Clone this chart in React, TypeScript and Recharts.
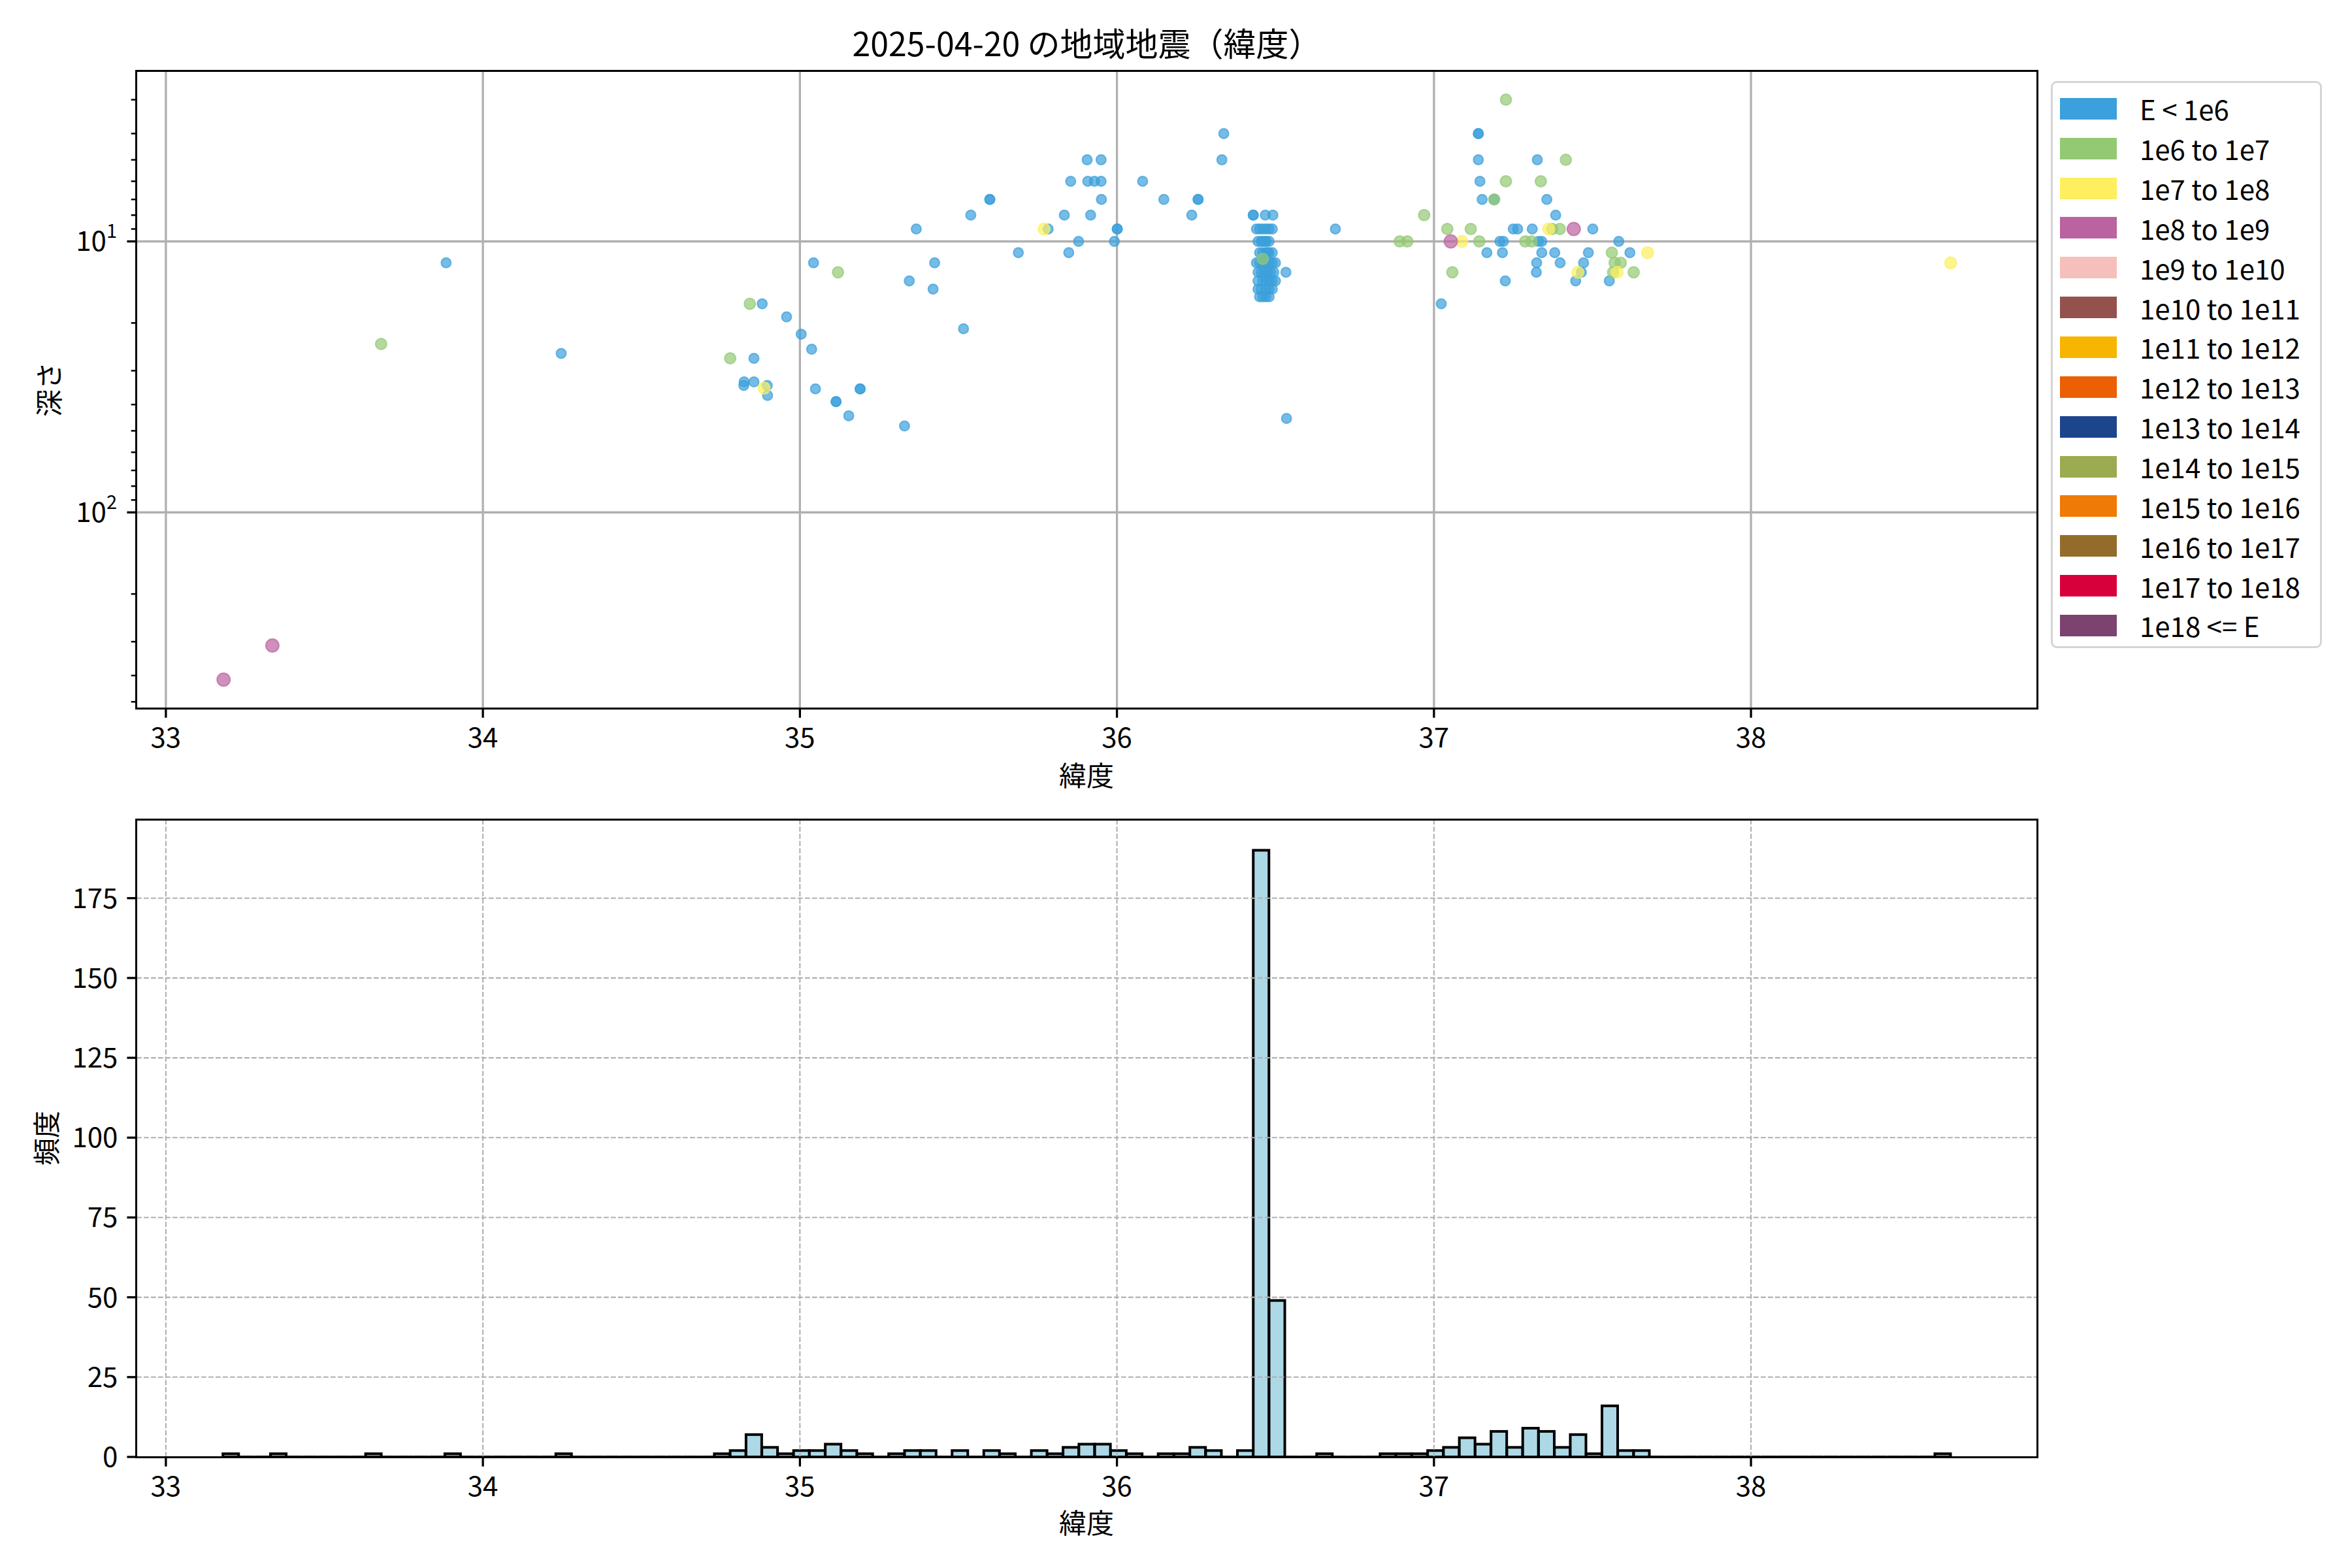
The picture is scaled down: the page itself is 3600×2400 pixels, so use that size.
import { ScatterChart, Scatter, BarChart, Bar, XAxis, YAxis, ReferenceLine } from 'recharts'

const FONT = '"Noto Sans CJK JP", "Noto Sans", sans-serif'

// axes
const LAT_TICKS = [33, 34, 35, 36, 37, 38]
const LAT_DOMAIN: [number, number] = [32.9075, 38.9025]
const DEPTH_MAJOR = [10, 100]
const DEPTH_MINOR = [3, 4, 5, 6, 7, 8, 9, 20, 30, 40, 50, 60, 70, 80, 90, 200, 300, 400, 500]
const DEPTH_DOMAIN: [number, number] = [2.355, 528]
const FREQ_TICKS = [0, 25, 50, 75, 100, 125, 150, 175]
const FREQ_DOMAIN: [number, number] = [0, 199.5]

// energy classes (legend)
const ENERGY_LABELS = [
  'E < 1e6', '1e6 to 1e7', '1e7 to 1e8', '1e8 to 1e9', '1e9 to 1e10', '1e10 to 1e11',
  '1e11 to 1e12', '1e12 to 1e13', '1e13 to 1e14', '1e14 to 1e15', '1e15 to 1e16',
  '1e16 to 1e17', '1e17 to 1e18', '1e18 <= E',
]
const ENERGY_COLORS = [
  '#3ba0db', '#93c973', '#fdef5e', '#bb62a0', '#f5c0bb', '#94524e', '#f7b500',
  '#eb5f05', '#1c468c', '#9bab50', '#ef7a05', '#936c2b', '#d8003a', '#7c4270',
]

// [latitude, depth km]
const pointsBelow1e6: [number, number][] = [
  [33.884, 12], [34.247, 25.9], [35.043, 12], [34.881, 17], [34.958, 19], [35.004, 22],
  [35.037, 25], [34.855, 27], [34.824, 33], [34.823, 34], [34.855, 33], [34.897, 34],
  [34.898, 37], [35.049, 35], [35.114, 39], [35.114, 39], [35.154, 44], [35.19, 35],
  [35.19, 35], [35.33, 48], [35.516, 21], [35.345, 14], [35.42, 15], [35.425, 12],
  [35.367, 9], [35.539, 8], [35.599, 7], [35.599, 7], [35.689, 11], [35.783, 9],
  [35.834, 8], [35.848, 11], [35.854, 6], [35.879, 10], [35.906, 5], [35.908, 6],
  [35.917, 8], [35.929, 6], [35.95, 5], [35.95, 6], [35.951, 7], [35.992, 10],
  [36.001, 9], [36.001, 9], [36.081, 6], [36.148, 7], [36.236, 8], [36.256, 7],
  [36.256, 7], [36.331, 5], [36.337, 4], [36.689, 9], [36.533, 13], [36.535, 45],
  // cluster near 36.45
  [36.43, 8], [36.43, 8], [36.468, 8], [36.492, 8],
  [36.44, 9], [36.45, 9], [36.46, 9], [36.47, 9], [36.48, 9], [36.49, 9],
  [36.445, 10], [36.455, 10], [36.46, 10], [36.47, 10], [36.48, 10], [36.47, 10],
  [36.45, 11], [36.46, 11], [36.47, 11], [36.48, 11], [36.49, 11], [36.475, 11],
  [36.44, 12], [36.45, 12], [36.46, 12], [36.47, 12], [36.48, 12], [36.49, 12], [36.5, 12],
  [36.445, 13], [36.455, 13], [36.465, 13], [36.475, 13], [36.485, 13], [36.495, 13],
  [36.445, 14], [36.46, 14], [36.47, 14], [36.48, 14], [36.49, 14], [36.5, 14],
  [36.445, 15], [36.455, 15], [36.47, 15], [36.48, 15], [36.49, 15],
  [36.45, 16], [36.46, 16], [36.47, 16], [36.48, 16],
  // north
  [37.14, 4], [37.14, 4], [37.14, 5], [37.326, 5], [37.145, 6], [37.152, 7], [37.19, 7],
  [37.356, 7], [37.384, 8], [37.25, 9], [37.264, 9], [37.31, 9], [37.501, 9],
  [37.208, 10], [37.219, 10], [37.33, 10], [37.34, 10], [37.583, 10], [37.167, 11],
  [37.216, 11], [37.34, 11], [37.381, 11], [37.487, 11], [37.618, 11], [37.324, 12],
  [37.398, 12], [37.472, 12], [37.323, 13], [37.465, 13], [37.225, 14], [37.447, 14],
  [37.553, 14], [37.023, 17],
]
const points1e6to1e7: [number, number][] = [
  [33.679, 23.9], [35.12, 13], [34.842, 17], [34.78, 27], [36.46, 11.6],
  [37.227, 3], [37.416, 5], [37.227, 6], [37.337, 6], [37.19, 7], [36.969, 8],
  [37.042, 9], [37.116, 9], [37.373, 9], [37.397, 9], [36.892, 10], [36.916, 10],
  [37.143, 10], [37.288, 10], [37.308, 10], [37.561, 11], [37.57, 12], [37.589, 12],
  [37.058, 13], [37.565, 13], [37.63, 13],
]
const points1e7to1e8: [number, number][] = [
  [34.887, 34.8], [35.77, 9], [37.088, 10], [37.362, 9], [37.674, 11],
  [37.578, 13], [37.454, 13], [38.63, 12],
]
const points1e8to1e9: [number, number][] = [
  [33.182, 414], [33.336, 310], [37.441, 9], [37.053, 10],
]

// histogram: 109 bins of 0.05 starting at 33.18
const HIST_START = 33.18
const HIST_WIDTH = 0.05
const histCounts = [
  1, 0, 0, 1, 0, 0, 0, 0, 0, 1,
  0, 0, 0, 0, 1, 0, 0, 0, 0, 0,
  0, 1, 0, 0, 0, 0, 0, 0, 0, 0,
  0, 1, 2, 7, 3, 1, 2, 2, 4, 2,
  1, 0, 1, 2, 2, 0, 2, 0, 2, 1,
  0, 2, 1, 3, 4, 4, 2, 1, 0, 1,
  1, 3, 2, 0, 2, 190, 49, 0, 0, 1,
  0, 0, 0, 1, 1, 1, 2, 3, 6, 4,
  8, 3, 9, 8, 3, 7, 1, 16, 2, 2,
  0, 0, 0, 0, 0, 0, 0, 0, 0, 0,
  0, 0, 0, 0, 0, 0, 0, 0, 1,
]

const series = [
  { color: ENERGY_COLORS[0], r: 7.5, points: pointsBelow1e6 },
  { color: ENERGY_COLORS[1], r: 8.5, points: points1e6to1e7 },
  { color: ENERGY_COLORS[2], r: 9, points: points1e7to1e8 },
  { color: ENERGY_COLORS[3], r: 10, points: points1e8to1e9 },
]

const histData = histCounts.map((count, i) => ({
  center: HIST_START + HIST_WIDTH * (i + 0.5),
  count,
}))

const SUP: Record<number, string> = { 10: '1', 100: '2' }

function DepthTick(props: any) {
  const { x, y, payload } = props
  const major = DEPTH_MAJOR.includes(payload.value)
  return (
    <g>
      <line
        x1={x}
        x2={x - (major ? 14.6 : 8.3)}
        y1={y}
        y2={y}
        stroke="#000"
        strokeWidth={major ? 3.3 : 2.5}
      />
      {major && (
        <text x={x - 30} y={y + 15} textAnchor="end" fontSize={42} fontFamily={FONT} fill="#000">
          10<tspan dy={-20} fontSize={29}>{SUP[payload.value]}</tspan>
        </text>
      )}
    </g>
  )
}

function HistBar(props: any) {
  const { x, y, width, height } = props
  if (!height) {
    return <line x1={x} x2={x + width} y1={y} y2={y} stroke="#000" strokeWidth={4} />
  }
  return <rect x={x} y={y} width={width} height={height} fill="#add8e6" stroke="#000" strokeWidth={4} />
}

const tickStyle = { fontSize: 42, fill: '#000', fontFamily: FONT }

function Frame({ left, top, width, height }: { left: number; top: number; width: number; height: number }) {
  return (
    <div
      style={{
        position: 'absolute',
        left: left - 1.65,
        top: top - 1.65,
        width: width + 3.3,
        height: height + 3.3,
        border: '3.3px solid #000',
        boxSizing: 'border-box',
        pointerEvents: 'none',
      }}
    />
  )
}

export default function App() {
  return (
    <div
      style={{
        position: 'absolute',
        left: 0,
        top: 0,
        width: 3600,
        height: 2400,
        background: '#fff',
        fontFamily: FONT,
        color: '#000',
      }}
    >
      <div style={{ position: 'absolute', left: 209, width: 2909, top: 36, textAlign: 'center', fontSize: 50, lineHeight: '56px' }}>
        2025-04-20 の地域地震（緯度）
      </div>

      <div style={{ position: 'absolute', left: 0, top: 0 }}>
        <ScatterChart width={3600} height={1200} margin={{ top: 109, right: 482, bottom: 16, left: 9 }}>
          <XAxis
            type="number"
            dataKey="lat"
            domain={LAT_DOMAIN}
            ticks={LAT_TICKS}
            allowDataOverflow
            height={100}
            axisLine={false}
            tickSize={14.6}
            tickMargin={16}
            tickLine={{ stroke: '#000', strokeWidth: 3.3 }}
            tick={tickStyle}
          />
          <YAxis
            type="number"
            dataKey="depth"
            scale="log"
            domain={DEPTH_DOMAIN}
            ticks={[...DEPTH_MINOR, ...DEPTH_MAJOR]}
            interval={0}
            allowDataOverflow
            reversed
            width={200}
            axisLine={false}
            tickLine={false}
            tickSize={0}
            tickMargin={0}
            tick={DepthTick}
          />
          {series.map((s, i) => (
            <Scatter
              key={i}
              data={s.points.map(([lat, depth]) => ({ lat, depth }))}
              isAnimationActive={false}
              shape={(p: any) => (
                <circle
                  cx={p.cx}
                  cy={p.cy}
                  r={s.r}
                  fill={s.color}
                  fillOpacity={0.7}
                  stroke={s.color}
                  strokeOpacity={0.7}
                  strokeWidth={2}
                />
              )}
            />
          ))}
          {LAT_TICKS.map(t => (
            <ReferenceLine key={'x' + t} x={t} stroke="#b0b0b0" strokeWidth={3.3} />
          ))}
          {DEPTH_MAJOR.map(t => (
            <ReferenceLine key={'y' + t} y={t} stroke="#b0b0b0" strokeWidth={3.3} />
          ))}
        </ScatterChart>
      </div>
      <Frame left={209} top={109} width={2909} height={975} />

      <div style={{ position: 'absolute', left: 1463, width: 400, top: 1160, textAlign: 'center', fontSize: 42, lineHeight: '50px', whiteSpace: 'nowrap' }}>
        緯度
      </div>
      <div
        style={{
          position: 'absolute',
          left: 73,
          top: 596,
          fontSize: 42,
          lineHeight: '50px',
          transform: 'translate(-50%, -50%) rotate(-90deg)',
          whiteSpace: 'nowrap',
        }}
      >
        深さ
      </div>

      <div
        style={{
          position: 'absolute',
          left: 3139,
          top: 124,
          width: 415,
          height: 868,
          border: '3px solid #d5d5d5',
          borderRadius: 9,
          boxSizing: 'border-box',
          background: 'rgba(255,255,255,0.8)',
          paddingTop: 9,
        }}
      >
        {ENERGY_LABELS.map((label, i) => (
          <div key={label} style={{ display: 'flex', alignItems: 'center', height: 60.85 }}>
            <div style={{ marginLeft: 11, width: 87, height: 33, background: ENERGY_COLORS[i] }} />
            <div style={{ marginLeft: 35, fontSize: 42, lineHeight: '50px', whiteSpace: 'nowrap' }}>{label}</div>
          </div>
        ))}
      </div>

      <div style={{ position: 'absolute', left: 0, top: 1150 }}>
        <BarChart
          width={3600}
          height={1250}
          data={histData}
          margin={{ top: 105, right: 482, bottom: 70, left: 9 }}
          barCategoryGap={0}
          barGap={0}
        >
          <XAxis
            type="number"
            dataKey="center"
            domain={LAT_DOMAIN}
            ticks={LAT_TICKS}
            allowDataOverflow
            height={100}
            axisLine={false}
            tickSize={14.6}
            tickMargin={16}
            tickLine={{ stroke: '#000', strokeWidth: 3.3 }}
            tick={tickStyle}
          />
          <YAxis
            type="number"
            domain={FREQ_DOMAIN}
            ticks={FREQ_TICKS}
            interval={0}
            allowDataOverflow
            width={200}
            axisLine={false}
            tickSize={14.6}
            tickMargin={14}
            tickLine={{ stroke: '#000', strokeWidth: 3.3 }}
            tick={tickStyle}
          />
          <Bar dataKey="count" isAnimationActive={false} shape={HistBar} />
          {LAT_TICKS.map(t => (
            <ReferenceLine key={'hx' + t} x={t} stroke="#b0b0b0" strokeWidth={2.1} strokeDasharray="7.7 3.3" />
          ))}
          {FREQ_TICKS.slice(1).map(t => (
            <ReferenceLine key={'hy' + t} y={t} stroke="#b0b0b0" strokeWidth={2.1} strokeDasharray="7.7 3.3" />
          ))}
        </BarChart>
      </div>
      <Frame left={209} top={1255} width={2909} height={975} />

      <div style={{ position: 'absolute', left: 1463, width: 400, top: 2304, textAlign: 'center', fontSize: 42, lineHeight: '50px', whiteSpace: 'nowrap' }}>
        緯度
      </div>
      <div
        style={{
          position: 'absolute',
          left: 69,
          top: 1742,
          fontSize: 42,
          lineHeight: '50px',
          transform: 'translate(-50%, -50%) rotate(-90deg)',
          whiteSpace: 'nowrap',
        }}
      >
        頻度
      </div>
    </div>
  )
}
